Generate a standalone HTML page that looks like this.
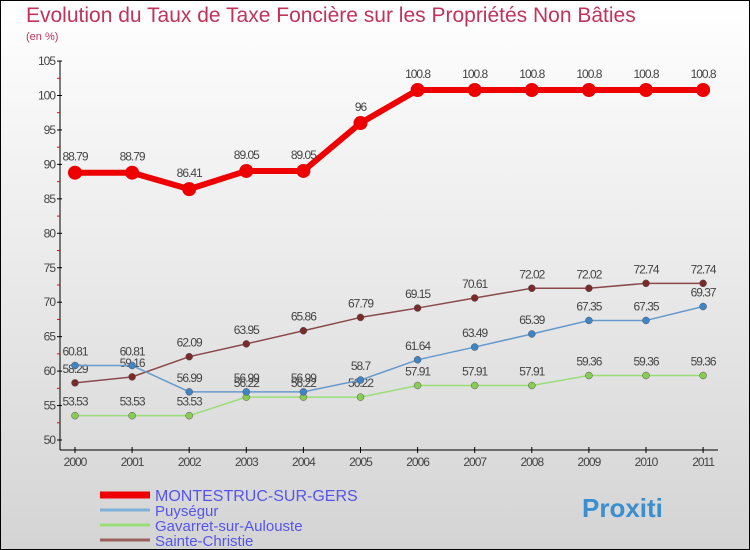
<!DOCTYPE html>
<html><head><meta charset="utf-8"><style>
body{margin:0}
#c{position:relative;width:750px;height:550px;box-sizing:border-box;border:1px solid #000;background:linear-gradient(#ffffff,#d4d4d4);font-family:"Liberation Sans",sans-serif;overflow:hidden}
</style></head><body>
<div id="c">
<svg id="s" width="750" height="550" style="position:absolute;left:-1px;top:-1px">
<text x="26" y="22" font-size="21" fill="#c0335a">Evolution du Taux de Taxe Foncière sur les Propriétés Non Bâties</text>
<text x="26" y="40" font-size="11" fill="#c0335a">(en %)</text>
<g id="g"></g>
</svg>
</div>
<script>
const years=[2000,2001,2002,2003,2004,2005,2006,2007,2008,2009,2010,2011];
const yTicks=[50,55,60,65,70,75,80,85,90,95,100,105];
const montestruc=[88.79,88.79,86.41,89.05,89.05,96,100.8,100.8,100.8,100.8,100.8,100.8];
const puysegur=[60.81,60.81,56.99,56.99,56.99,58.7,61.64,63.49,65.39,67.35,67.35,69.37];
const gavarret=[53.53,53.53,53.53,56.22,56.22,56.22,57.91,57.91,57.91,59.36,59.36,59.36];
const sainte=[58.29,59.16,62.09,63.95,65.86,67.79,69.15,70.61,72.02,72.02,72.74,72.74];
const seriesNames=["MONTESTRUC-SUR-GERS","Puységur","Gavarret-sur-Aulouste","Sainte-Christie"];
const NS="http://www.w3.org/2000/svg";
const g=document.getElementById('g');
const X=i=>75+i*57.1;
const Y=v=>440-(v-50)*6.89;
function el(t,a,p){const e=document.createElementNS(NS,t);for(const k in a)e.setAttribute(k,a[k]);(p||g).appendChild(e);return e;}
function lbl(v){return String(v).replace('.','.');}
// axes
let ax=el('line',{x1:60,y1:Y(105),x2:60,y2:450,stroke:'#000'});

let xa=el('line',{x1:60,y1:450,x2:718,y2:450,stroke:'#000'});

yTicks.forEach(v=>{
  el('line',{x1:57,y1:Y(v),x2:62,y2:Y(v),stroke:'#000'});
  if(v<105){el('line',{x1:57,y1:Y(v+2.5),x2:60,y2:Y(v+2.5),stroke:'#e00'});}
  const t=el('text',{x:55,y:Y(v)+4,'font-size':12,'text-anchor':'end',fill:'#444','letter-spacing':'-1'});
  t.textContent=v;
  
});
years.forEach((y,i)=>{
  el('line',{x1:X(i),y1:447,x2:X(i),y2:453,stroke:'#000'});
  const t=el('text',{x:X(i),y:466,'font-size':12,'text-anchor':'middle',fill:'#444','letter-spacing':'-1'});
  t.textContent=y;
  
});
function series(data,color,dot,w,r,name,fs,off){
  const pts=data.map((v,i)=>X(i)+','+Y(v)).join(' ');
  const pl=el('polyline',{points:pts,fill:'none',stroke:color,'stroke-width':w,'stroke-linejoin':'round'});
  
  data.forEach((v,i)=>{
    const c=el('circle',{cx:X(i),cy:Y(v),r:r,fill:dot,stroke:r<5?'#555':'none','stroke-width':0.5});
    
    const t=el('text',{x:X(i),y:Y(v)+off,'font-size':fs,'text-anchor':'middle',fill:'#444','letter-spacing':'-1'});
    t.textContent=v;
    
  });
}
series(gavarret,'#99dd77','#88cc55',1.5,3.5,'gavarret',12,-10);
series(sainte,'#8a4a4a','#7a2a2a',1.5,3.5,'sainte-christie',12,-10);
series(puysegur,'#6699cc','#3d85c6',1.5,3.5,'puysegur',12,-10);
series(montestruc,'#ee0000','#ee0000',6,7,'montestruc',12,-12);
// legend
const cols=['#ee0000','#7fb0d8','#99dd77','#9a6060'];
const ws=[7,3,3,3];
[495,510,525,540].forEach((yy,i)=>{
  const l=el('line',{x1:100,y1:yy,x2:150,y2:yy,stroke:cols[i],'stroke-width':ws[i]});
  
  const t=el('text',{x:155,y:yy+6,'font-size':i==0?16:15,fill:'#5555ee'});
  t.textContent=seriesNames[i];
  
});
const p=el('text',{x:582,y:517,'font-size':26,'font-weight':'bold',fill:'#3a8fd0'});
p.textContent='Proxiti';

</script>
</body></html>
